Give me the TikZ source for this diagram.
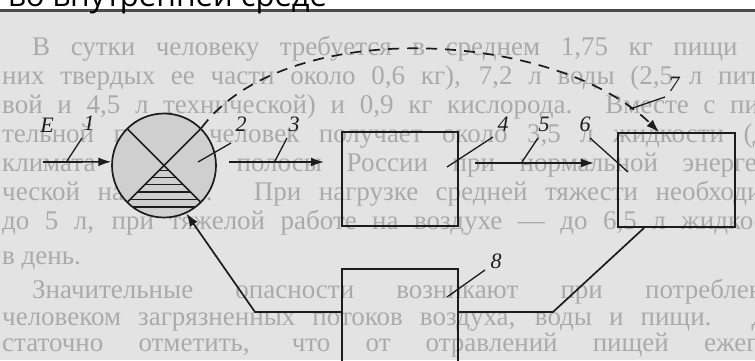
\documentclass[tikz,border=0pt]{standalone}
\usepackage{fontspec}
\setmainfont{Liberation Serif}
\newfontfamily\headfont{Open Sans}
\usepackage{graphicx}
\usetikzlibrary{arrows.meta,calc}
\definecolor{pagebg}{HTML}{E3E3E3}
\definecolor{showthru}{HTML}{AAAAAA}
\definecolor{ink}{HTML}{1C1C1C}
\definecolor{shade}{HTML}{CFCFCF}
\tikzset{
  arr/.style={draw=ink, line width=1.7pt, -{Latex[length=13pt,width=9pt]}},
  ln/.style={draw=ink, line width=1.7pt},
  leader/.style={draw=ink, line width=1.3pt},
  lab/.style={font=\fontsize{22}{22}\selectfont\itshape, text=ink, inner sep=0pt},
  bgline/.style={font=\fontsize{27}{27}\selectfont, text=showthru, inner sep=0pt, anchor=base west},
  boxn/.style={draw=ink, line width=1.7pt, minimum width=116pt, minimum height=94pt, inner sep=0pt},
}
\begin{document}
\begin{tikzpicture}[x=1pt,y=-1pt]
\useasboundingbox (0,0) rectangle (755,360);
\clip (0,0) rectangle (755,360);
% page
\fill[white] (0,0) rectangle (755,10);
\fill[pagebg] (0,10) rectangle (755,360);
\draw[line width=2.5pt, draw=black!70] (0,10.5) -- (755,10.5);
\node[font=\headfont\fontsize{31}{31}\selectfont, anchor=base west, inner sep=0pt] (head) at (8,6) {во внутренней среде};
% faint text of the page behind the figure
\node[bgline] (t1) at (32,55) {\makebox[760pt][s]{В сутки человеку требуется в среднем 1,75 кг пищи (из}};
\node[bgline] (t2) at (2,84) {\makebox[790pt][s]{них твердых ее части около 0,6 кг), 7,2 л воды (2,5 л питье-}};
\node[bgline] (t3) at (2,113) {\makebox[790pt][s]{вой и 4,5 л технической) и 0,9 кг кислорода. Вместе с пита-}};
\node[bgline] (t4) at (2,142) {\makebox[790pt][s]{тельной пищей человек получает около 3,5 л жидкости (для}};
\node[bgline] (t5) at (2,171) {\makebox[790pt][s]{климата средней полосы России при нормальной энергети-}};
\node[bgline] (t6) at (2,200) {\makebox[790pt][s]{ческой нагрузке). При нагрузке средней тяжести необходимо}};
\node[bgline] (t7) at (2,229) {\makebox[790pt][s]{до 5 л, при тяжелой работе на воздухе — до 6,5 л жидкости}};
\node[bgline] (t8) at (2,264) {в день.};
\node[bgline] (t9) at (32,298) {\makebox[760pt][s]{Значительные опасности возникают при потреблении}};
\node[bgline] (t10) at (2,325) {\makebox[790pt][s]{человеком загрязненных потоков воздуха, воды и пищи. До-}};
\node[bgline] (t11) at (2,351) {\makebox[790pt][s]{статочно отметить, что от отравлений пищей ежегод-}};
% circle element
\node[circle, draw=ink, fill=shade, line width=1.7pt, minimum size=104pt, inner sep=0pt] (C) at (164,165.5) {};
\begin{scope}
  \clip (164,165.5) circle (52pt);
  \draw[ln] (164,165.5) ++(-60,-60) -- ++(120,120);
  \draw[ln] (164,165.5) ++(60,-60) -- ++(-120,120);
  \clip (164,165.5) -- ++(-70,70) -- ++(140,0) -- cycle;
  \foreach \yy in {170.5,177.5,184.5,192,199.5,207}
    \draw[line width=1.4pt, draw=ink] (100,\yy) -- (230,\yy);
\end{scope}
% boxes
\node[boxn] (B1) at (400,179) {};
\node[boxn, minimum width=117pt] (B2) at (676.5,180) {};
\node[boxn, minimum height=112pt] (B3) at (400,325) {};
% arrows
\coordinate (e1) at (43,162);
\coordinate (a3s) at (229,162);
\coordinate (a3e) at (324,162);
\coordinate (a5s) at (475,163);
\coordinate (a5e) at (594,163);
\draw[arr] (e1) -- (C.176);
\draw[arr] (a3s) -- (a3e);
\draw[arr] (a5s) -- (a5e);
% dashed flow 7
\draw[draw=ink, line width=1.7pt, dash pattern=on 11pt off 8pt, -{Latex[length=13pt,width=9pt]}]
  (C.45) .. controls (285,15) and (555,30) .. ($(B2.north west)+(42,0)$);
% return flow 8
\draw[ln] ($(B2.south west)+(27,0)$) -- (553,312) -- (B3.east |- 0,312);
\draw[arr] (B3.west |- 0,312) -- (255,312) -- (C.-65);
% labels and leaders
\node[lab] (lE) at (47,125) {E};
\node[lab] (l1) at (89,123) {1};
\draw[leader] (67,161) -- (82,138);
\node[lab] (l2) at (241,124) {2};
\draw[leader] (198,162) -- (231,143);
\node[lab] (l3) at (294,124) {3};
\draw[leader] (275,161) -- (287,138);
\node[lab] (l4) at (503,124) {4};
\draw[leader] (447,167) -- (493,137);
\node[lab] (l5) at (544,124) {5};
\draw[leader] (522,162) -- (538,138);
\node[lab] (l6) at (585,124) {6};
\draw[leader] (628,172) -- (590,138);
\node[lab] (l7) at (674,84) {7};
\draw[leader] (630,109) -- (665,97);
\node[lab] (l8) at (496,261) {8};
\draw[leader] (447,297) -- (485,270);
\end{tikzpicture}
\end{document}
